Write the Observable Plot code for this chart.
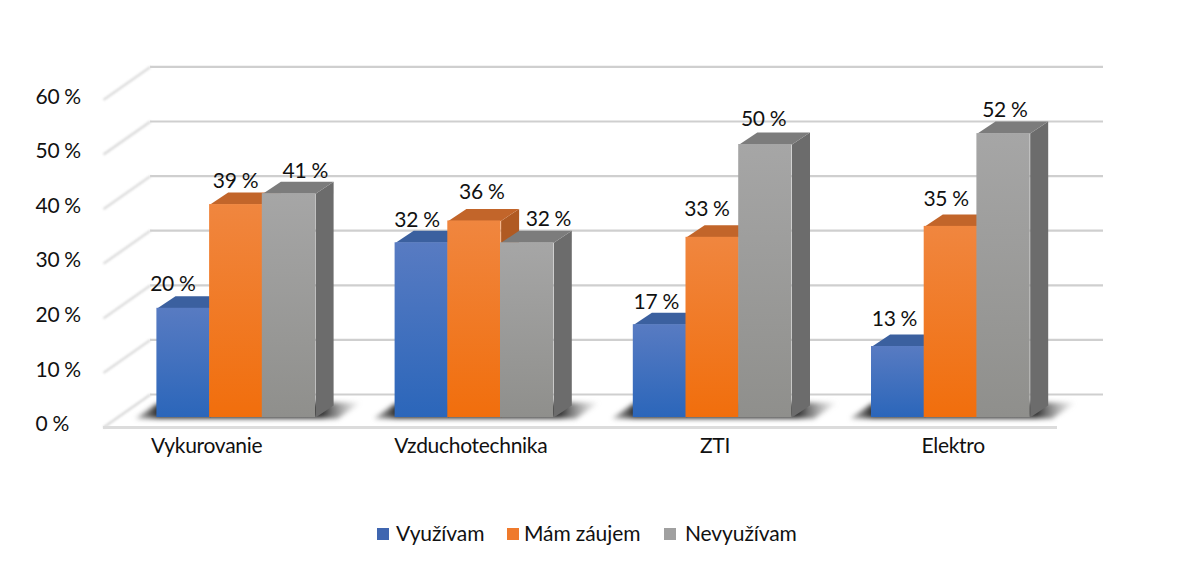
<!DOCTYPE html>
<html lang="sk">
<head>
<meta charset="utf-8">
<script src="https://cdn.jsdelivr.net/npm/d3@7"></script>
<script src="https://cdn.jsdelivr.net/npm/@observablehq/plot@0.6"></script>
<style>
  html, body { margin: 0; padding: 0; background: #fff; }
  #chart svg { display: block; }
  .soft { filter: blur(2.4px); }
  .softline { filter: blur(0.5px); }
  .softdiag { filter: blur(0.9px); }
  #legend { position: relative; height: 40px; font-family: Lato, sans-serif; font-size: 21px; color: #111; letter-spacing: -0.1px; }
  #legend span { position: absolute; top: 0; line-height: 28px; white-space: nowrap; }
  #legend i { position: absolute; top: 9px; width: 12px; height: 12px; }
</style>
</head>
<body>
<div id="chart"></div>
<div id="legend"></div>
<script>
// ---- data ----
const categories = ["Vykurovanie", "Vzduchotechnika", "ZTI", "Elektro"];
const seriesNames = ["Využívam", "Mám záujem", "Nevyužívam"];
const vyuzivam = [20, 32, 17, 13];
const mamZaujem = [39, 36, 33, 35];
const nevyuzivam = [41, 32, 50, 52];
const yTicks = [0, 10, 20, 30, 40, 50, 60];

// ---- styles ----
const topColors = ["#3B609F", "#C2652A", "#7C7C7C"];
const sideColors = ["#2F4E85", "#B05A22", "#6C6C6C"];
const gradientStops = [["#587BC2", "#2B66BA"], ["#F0863F", "#F16E0C"], ["#A6A6A6", "#8F8F8C"]];
const swatchColors = ["#3F66B0", "#EF7A2C", "#A0A0A0"];

// ---- layout (pixels) ----
const W = 1200, H = 510;
const x0 = 157, groupStep = 238.2, barW = 52.7;
const y0 = 417, pxPerPct = 5.46;
const depthX = 18, depthY = 12;
const ux = (px) => px / groupStep;          // pixels to x units
const uy = (px) => px / pxPerPct;           // pixels to y units
const atX = (px) => (px - x0) / groupStep;  // absolute pixel to x value

// label nudges, in pixels, by group then series
const labelDx = [[-11, -1, 16], [-5, 7, 21], [-4, -6, -2], [-4, -5, 1]];
const labelDy = [[-24, -23, -22], [-23, -29, -24], [-22, -28, -25], [-27, -27, -23]];
const categoryDx = [-30, -4, 2, 2];

const seriesValues = [vyuzivam, mamZaujem, nevyuzivam];
const gradId = (s) => `bar-grad-${s}`;

const defs = () => {
  const d = d3.create("svg:defs");
  gradientStops.forEach(([a, b], s) => {
    const g = d.append("linearGradient").attr("id", gradId(s))
      .attr("x1", 0).attr("y1", 0).attr("x2", 0).attr("y2", 1);
    g.append("stop").attr("offset", "0%").attr("stop-color", a);
    g.append("stop").attr("offset", "100%").attr("stop-color", b);
  });
  const sh = d.append("linearGradient").attr("id", "floor-shadow")
    .attr("x1", 0).attr("y1", 0).attr("x2", 1).attr("y2", 0);
  [[0, "#666", 0.5], [0.1, "#2a2a2a", 1], [0.82, "#2e2e2e", 1], [1, "#777", 0]].forEach(([o, c, a]) =>
    sh.append("stop").attr("offset", o).attr("stop-color", c).attr("stop-opacity", a));
  return d.node();
};

const polygon = (pts, options) =>
  Plot.line(pts.map(([x, y]) => ({x, y})), {x: "x", y: "y", stroke: "none", ...options});

const barLeft = (g, s) => g + ux(barW) * s;
const dX = ux(depthX), dY = uy(depthY);

const marks = [defs];

// back wall and left wall grid
const wallBack = uy(23), wallFront = uy(-10);
marks.push(
  Plot.ruleY(yTicks, {y: (d) => d + wallBack, x1: atX(150), x2: atX(1103), stroke: "#CFCFCF", strokeWidth: 2.2, className: "softline"}),
  Plot.link(yTicks, {x1: atX(103), y1: (d) => d + wallFront, x2: atX(150), y2: (d) => d + wallBack, stroke: "#D8D8D8", strokeWidth: 2.2, className: "softdiag"}),
  Plot.ruleY([wallFront], {x1: atX(103), x2: atX(1057), stroke: "#DCDCDC", strokeWidth: 3, className: "softline"})
);

// floor shadows
categories.forEach((_, g) => {
  const l = g, r = g + ux(barW) * 3;
  marks.push(polygon([
    [l - ux(22), uy(-1)], [l, uy(14)], [r + ux(46), uy(15)], [r + ux(22), uy(-1)]
  ], {fill: "url(#floor-shadow)", className: "soft"}));
});

// bars, painted back to front, left to right
categories.forEach((_, g) => {
  seriesValues.forEach((values, s) => {
    const v = values[g], l = barLeft(g, s), r = l + ux(barW);
    marks.push(
      polygon([[r, 0], [r + dX, dY], [r + dX, v + dY], [r, v]], {fill: sideColors[s]}),
      polygon([[l, v], [l + dX, v + dY], [r + dX, v + dY], [r, v]], {fill: topColors[s]}),
      Plot.rect([{l: l - ux(0.6), r, v}], {x1: "l", x2: "r", y1: 0, y2: "v", fill: `url(#${gradId(s)})`})
    );
  });
});

// value labels
const labelRows = categories.flatMap((_, g) => seriesValues.map((values, s) => ({
  x: barLeft(g, s) + ux(barW / 2 + labelDx[g][s]),
  y: values[g] + uy(-labelDy[g][s]),
  text: `${values[g]} %`
})));
const textStyle = {fontSize: 21, fill: "#111"};
marks.push(
  Plot.text(labelRows, {x: "x", y: "y", text: "text", lineAnchor: "middle", ...textStyle}),
  Plot.text(categories, {
    x: (_, g) => g + ux(barW * 1.5 + categoryDx[g]),
    y: uy(-29),
    text: (d) => d,
    lineAnchor: "middle", ...textStyle
  }),
  Plot.axisY(yTicks, {
    tickSize: 0, tickPadding: 0, textAnchor: "start", dx: 35, dy: 7,
    tickFormat: (d) => `${d} %`, label: null, ...textStyle
  })
);

const chart = Plot.plot({
  width: W, height: H,
  marginLeft: 0, marginRight: 0, marginTop: 0, marginBottom: 0,
  style: {fontFamily: "Lato, sans-serif", background: "#fff", overflow: "visible", letterSpacing: "-0.3px"},
  x: {domain: [0, 4], range: [x0, x0 + 4 * groupStep], axis: null},
  y: {domain: [0, 60], range: [y0, y0 - 60 * pxPerPct], label: null},
  marks
});
document.getElementById("chart").append(chart);

// legend
const legend = document.getElementById("legend");
const swatchX = [377, 507, 664], textX = [396, 524, 685];
legend.style.marginTop = "9px";
seriesNames.forEach((name, s) => {
  const i = document.createElement("i");
  i.style.left = swatchX[s] + "px";
  i.style.background = swatchColors[s];
  const t = document.createElement("span");
  t.style.left = textX[s] + "px";
  t.textContent = name;
  legend.append(i, t);
});
</script>
</body>
</html>
